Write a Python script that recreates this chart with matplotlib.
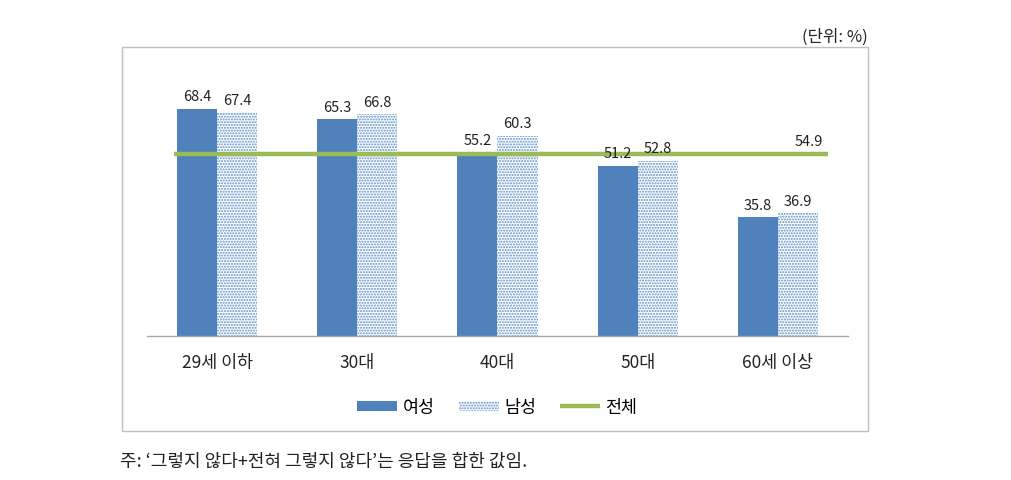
import matplotlib
matplotlib.use("Agg")
import matplotlib.pyplot as plt
from matplotlib.patches import Rectangle
import numpy as np

plt.rcParams['font.family'] = ['Noto Sans CJK KR', 'DejaVu Sans']
plt.rcParams['hatch.linewidth'] = 1.0

categories = ['29세 이하', '30대', '40대', '50대', '60세 이상']
female = [68.4, 65.3, 55.2, 51.2, 35.8]
male = [67.4, 66.8, 60.3, 52.8, 36.9]
total = 54.9
series_names = ['여성', '남성', '전체']

c_female = '#4F81BD'
c_line = '#9BBB59'

W, H = 1012, 481
fig = plt.figure(figsize=(W / 100, H / 100), dpi=100)

# outer frame
frame = Rectangle((122 / W, 1 - 432 / H), (868 - 122) / W, (432 - 48) / H,
                  transform=fig.transFigure, fill=False, edgecolor='#BFBFBF', lw=1.0)
fig.add_artist(frame)

ax_l, ax_r, ax_b = 147, 848, 337
ymax = 80
top_px = ax_b - ymax * 3.32
ax = fig.add_axes([ax_l / W, 1 - ax_b / H, (ax_r - ax_l) / W, (ax_b - top_px) / H])
ax.set_xlim(-0.5, 4.5)
ax.set_ylim(0, ymax)

x = np.arange(len(categories))
bw = 0.286
h1 = ax.bar(x - bw / 2, female, bw, color=c_female, label=series_names[0])
h2 = ax.bar(x + bw / 2, male, bw, facecolor='white', edgecolor='#5B8FC7', hatch='......',
            lw=0, label=series_names[1])

h3, = ax.plot([-0.31, 4.36], [total, total], color=c_line, lw=3.2, label=series_names[2],
              solid_capstyle='butt')

for xi, v in zip(x, female):
    ax.annotate(f'{v:.1f}', (xi - bw / 2, v), xytext=(0, 4), textcoords='offset points',
                ha='center', va='bottom', fontsize=10.5, color='#222222')
for xi, v in zip(x, male):
    ax.annotate(f'{v:.1f}', (xi + bw / 2, v), xytext=(0, 4), textcoords='offset points',
                ha='center', va='bottom', fontsize=10.5, color='#222222')
ax.annotate(f'{total:.1f}', (4.22, total), xytext=(0, 4), textcoords='offset points',
            ha='center', va='bottom', fontsize=10.5, color='#222222')

for s in ['top', 'right', 'left']:
    ax.spines[s].set_visible(False)
ax.spines['bottom'].set_color('#A6A6A6')
ax.spines['bottom'].set_linewidth(1.0)
ax.set_yticks([])
ax.set_xticks(x)
ax.set_xticklabels(categories, fontsize=12.5, color='#222222')
ax.tick_params(axis='x', length=0, pad=12)

leg = ax.legend([h1, h2, h3], series_names, loc='center',
                bbox_to_anchor=(0.5, (ax_b - 408) / (ax_b - top_px)), ncol=3,
                frameon=False, fontsize=12.5, handlelength=2.3, handleheight=0.55,
                columnspacing=1.4, handletextpad=0.3)

fig.text(868 / W, 1 - 37 / H, '(단위: %)', ha='right', va='center', fontsize=12, color='#222222')
fig.text(120 / W, 1 - 462 / H, '주: ‘그렇지 않다+전혀 그렇지 않다’는 응답을 합한 값임.',
         ha='left', va='center', fontsize=13, color='#222222')

fig.savefig('out.png', dpi=100)
